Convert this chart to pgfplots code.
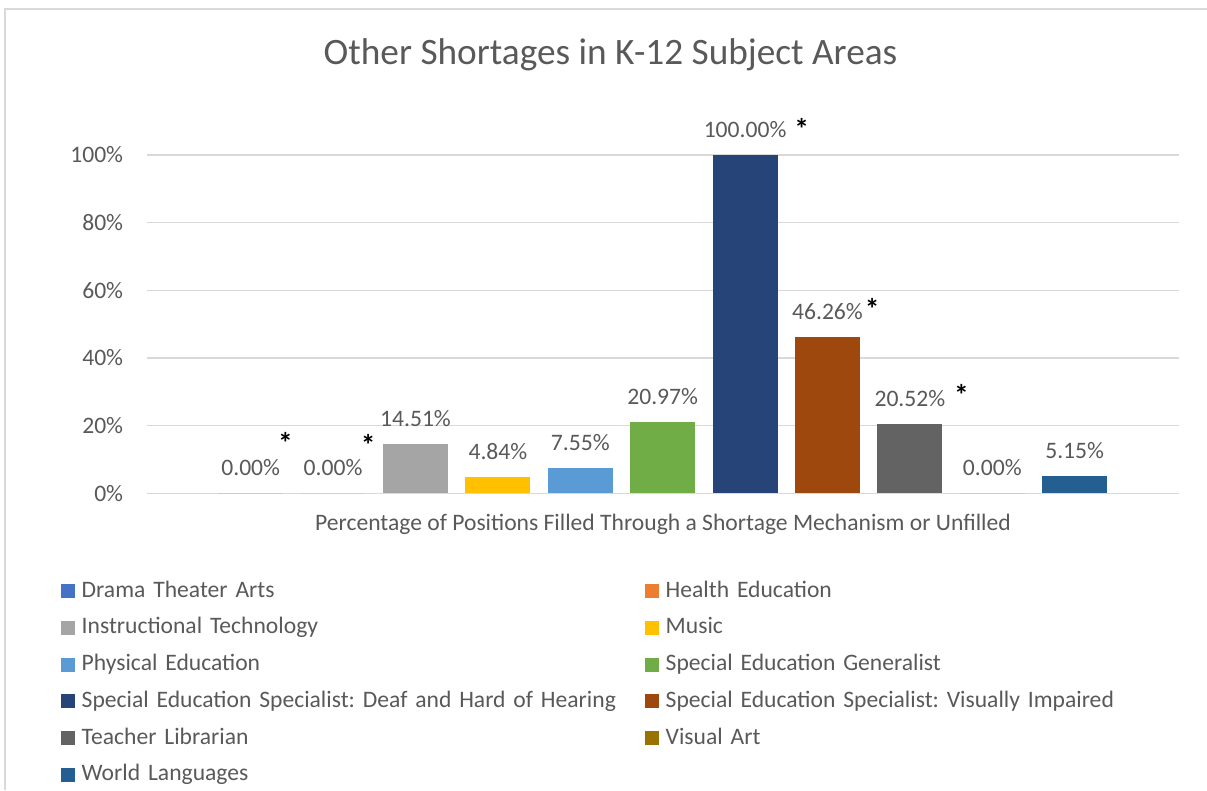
\documentclass[border=0pt]{standalone}
\usepackage{graphicx}
\usepackage{pgfplots}
\pgfplotsset{compat=1.18}
\usepackage{fontspec}
\setmainfont{Carlito}
\frenchspacing
\definecolor{txt}{HTML}{595959}
\definecolor{gridc}{HTML}{D9D9D9}
\definecolor{cA}{HTML}{4472C4}
\definecolor{cB}{HTML}{ED7D31}
\definecolor{cC}{HTML}{A5A5A5}
\definecolor{cD}{HTML}{FFC000}
\definecolor{cE}{HTML}{5B9BD5}
\definecolor{cF}{HTML}{70AD47}
\definecolor{cG}{HTML}{264478}
\definecolor{cH}{HTML}{9E480E}
\definecolor{cI}{HTML}{636363}
\definecolor{cJ}{HTML}{997300}
\definecolor{cK}{HTML}{255E91}
\newcommand{\sta}[2]{\rlap{\hspace{#1}\raisebox{#2}{\textcolor{black}{\scalebox{1.25}{\bfseries *}}}}}
\newcommand{\basefont}{\fontsize{23.6}{28}\selectfont\frenchspacing}
\begin{document}
\begin{tikzpicture}
\path[use as bounding box] (0pt,0pt) rectangle (1207pt,-790pt);
\draw[color=gridc, line width=1.5pt] (5pt,-790pt) -- (5pt,-9pt) -- (1207pt,-9pt);
\node[anchor=base, text=txt, font=\fontsize{37.3}{44}\selectfont, inner sep=0pt] at (610.5pt,-64pt) {Other Shortages in K-12 Subject Areas};
\begin{axis}[
  at={(147pt,-493.3pt)}, anchor=south west,
  scale only axis, width=1032pt, height=338.3pt,
  xmin=-1.2585, xmax=11.266, ymin=0, ymax=100,
  ytick={0,20,...,100}, xtick=\empty,
  yticklabel={\pgfmathprintnumber{\tick}\%},
  /pgf/number format/assume math mode=true,
  ymajorgrids, grid style={color=gridc, line width=1.5pt},
  axis line style={draw=none}, major tick length=0pt,
  tick label style={font=\basefont, text=txt},
  yticklabel style={inner sep=0pt, anchor=east, xshift=-23.7pt},
  xlabel={Percentage of Positions Filled Through a Shortage Mechanism or Unfilled},
  xlabel style={at={(axis description cs:0.5,0)}, anchor=base, yshift=-36.7pt, font=\basefont, text=txt, inner sep=0pt},
  clip=false,
  mybar/.style={ybar, bar width=0.789, bar shift=0pt, draw=none, fill=#1,
    legend image code/.code={\fill[##1] (0pt,-6.5pt) rectangle (14pt,7.5pt); \path (20.7pt,0pt);}},
  every node near coord/.append style={anchor=base, yshift=17.5pt, font=\basefont, text=txt, inner sep=0pt},
  legend columns=2,
  legend cell align=left,
  legend style={draw=none, fill=none, inner sep=0pt, outer sep=0pt,
    at={(-0.08333,-0.23663)}, anchor=north west,
    column sep=0pt, row sep=0pt,
    font=\basefont, text=txt,
    nodes={inner xsep=0pt, inner ysep=7.85pt, text height=16pt, text depth=5pt, text width=563.3pt, align=left, text=txt}},
]
\addplot[mybar=cA, nodes near coords={0.00\%\sta{-2pt}{22pt}}] coordinates {(0,0)};
\addplot[mybar=cB, nodes near coords={0.00\%\sta{-1.5pt}{20pt}}] coordinates {(1,0)};
\addplot[mybar=cC, nodes near coords={14.51\%}] coordinates {(2,14.51)};
\addplot[mybar=cD, nodes near coords={4.84\%}] coordinates {(3,4.84)};
\addplot[mybar=cE, nodes near coords={7.55\%}] coordinates {(4,7.55)};
\addplot[mybar=cF, nodes near coords={20.97\%}] coordinates {(5,20.97)};
\addplot[mybar=cG, nodes near coords={100.00\%\sta{8pt}{-2pt}}] coordinates {(6,100)};
\addplot[mybar=cH, nodes near coords={46.26\%\sta{2pt}{0pt}}] coordinates {(7,46.26)};
\addplot[mybar=cI, nodes near coords={20.52\%\sta{9pt}{1pt}}] coordinates {(8,20.52)};
\addplot[mybar=cJ, nodes near coords={0.00\%}] coordinates {(9,0)};
\addplot[mybar=cK, nodes near coords={5.15\%}] coordinates {(10,5.15)};
\legend{Drama Theater Arts, Health Education, Instructional Technology, Music, Physical Education, Special Education Generalist, Special Education Specialist: Deaf and Hard of Hearing, Special Education Specialist: Visually Impaired, Teacher Librarian, Visual Art, World Languages}
\end{axis}
\end{tikzpicture}
\end{document}
